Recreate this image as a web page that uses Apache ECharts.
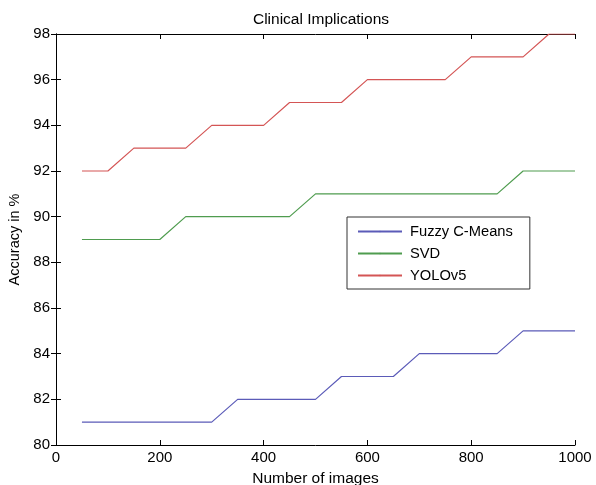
<!DOCTYPE html>
<html>
<head>
<meta charset="utf-8">
<script src="https://cdn.jsdelivr.net/npm/echarts@6/dist/echarts.min.js"></script>
<style>html,body{margin:0;padding:0;background:#fff;}#c{width:596px;height:485px;}</style>
</head>
<body>
<div id="c"></div>
<script>
const images = [50,100,150,200,250,300,350,400,450,500,550,600,650,700,750,800,850,900,950,1000];
const fuzzyCMeans = [81,81,81,81,81,81,82,82,82,82,83,83,83,84,84,84,84,85,85,85];
const svd = [89,89,89,89,90,90,90,90,90,91,91,91,91,91,91,91,91,92,92,92];
const yolov5 = [92,92,93,93,93,94,94,94,95,95,95,96,96,96,96,97,97,97,98,98];
const seriesNames = ['Fuzzy C-Means','SVD','YOLOv5'];
const seriesColors = ['#5b5bb8','#4f9c4f','#d45555'];

const font = '"Liberation Sans", Arial, sans-serif';
const chart = echarts.init(document.getElementById('c'));
const pairs = v => images.map((x,i)=>[x,v[i]]);
const baseAxisLine = {show:true, lineStyle:{color:'#000', width:1}};
const tick = {show:true, inside:true, length:5, lineStyle:{color:'#000'}};
chart.setOption({
  animation:false,
  backgroundColor:'#fff',
  title:{text:'Clinical Implications', left:316, top:7, textAlign:'center',
    textStyle:{fontFamily:font, fontSize:15.5, fontWeight:'normal', color:'#000'}},
  grid:{left:56, right:21, top:34, bottom:40, containLabel:false, outerBoundsMode:'none'},
  legend:{
    orient:'vertical', left:347, top:217,
    data:seriesNames,
    itemWidth:44, itemHeight:2, itemGap:7,
    padding:[7,17,6,10],
    borderColor:'#333', borderWidth:1, backgroundColor:'#fff',
    textStyle:{fontFamily:font, fontSize:14.7, color:'#000', padding:[0,0,0,3]}
  },
  xAxis:[
    {type:'value', min:0, max:1000, interval:200, position:'bottom',
     name:'Number of images', nameLocation:'middle', nameGap:26,
     nameTextStyle:{fontFamily:font, fontSize:15.5, color:'#000'},
     axisLine:baseAxisLine, axisTick:tick, splitLine:{show:false},
     axisLabel:{fontFamily:font, fontSize:15, color:'#000', margin:5,
       formatter:v=>String(v)}},
    {type:'value', min:0, max:1000, interval:200, position:'top',
     axisLine:baseAxisLine, axisTick:tick, splitLine:{show:false},
     axisLabel:{show:false}}
  ],
  yAxis:[
    {type:'value', min:80, max:98, interval:2, position:'left',
     name:'Accuracy in %', nameLocation:'middle', nameGap:29, nameRotate:90,
     nameTextStyle:{fontFamily:font, fontSize:14.5, color:'#000'},
     axisLine:baseAxisLine, axisTick:tick, splitLine:{show:false},
     axisLabel:{fontFamily:font, fontSize:15, color:'#000', margin:6}},
    {type:'value', min:80, max:98, interval:2, position:'right',
     axisLine:baseAxisLine, axisTick:tick, splitLine:{show:false},
     axisLabel:{show:false}}
  ],
  series:[fuzzyCMeans, svd, yolov5].map((v,i)=>({
    name:seriesNames[i], type:'line', data:pairs(v),
    xAxisIndex:0, yAxisIndex:0,
    symbol:'none', showSymbol:false,
    lineStyle:{color:seriesColors[i], width:1.2},
    itemStyle:{color:seriesColors[i]},
    clip:true
  }))
});
</script>
</body>
</html>
